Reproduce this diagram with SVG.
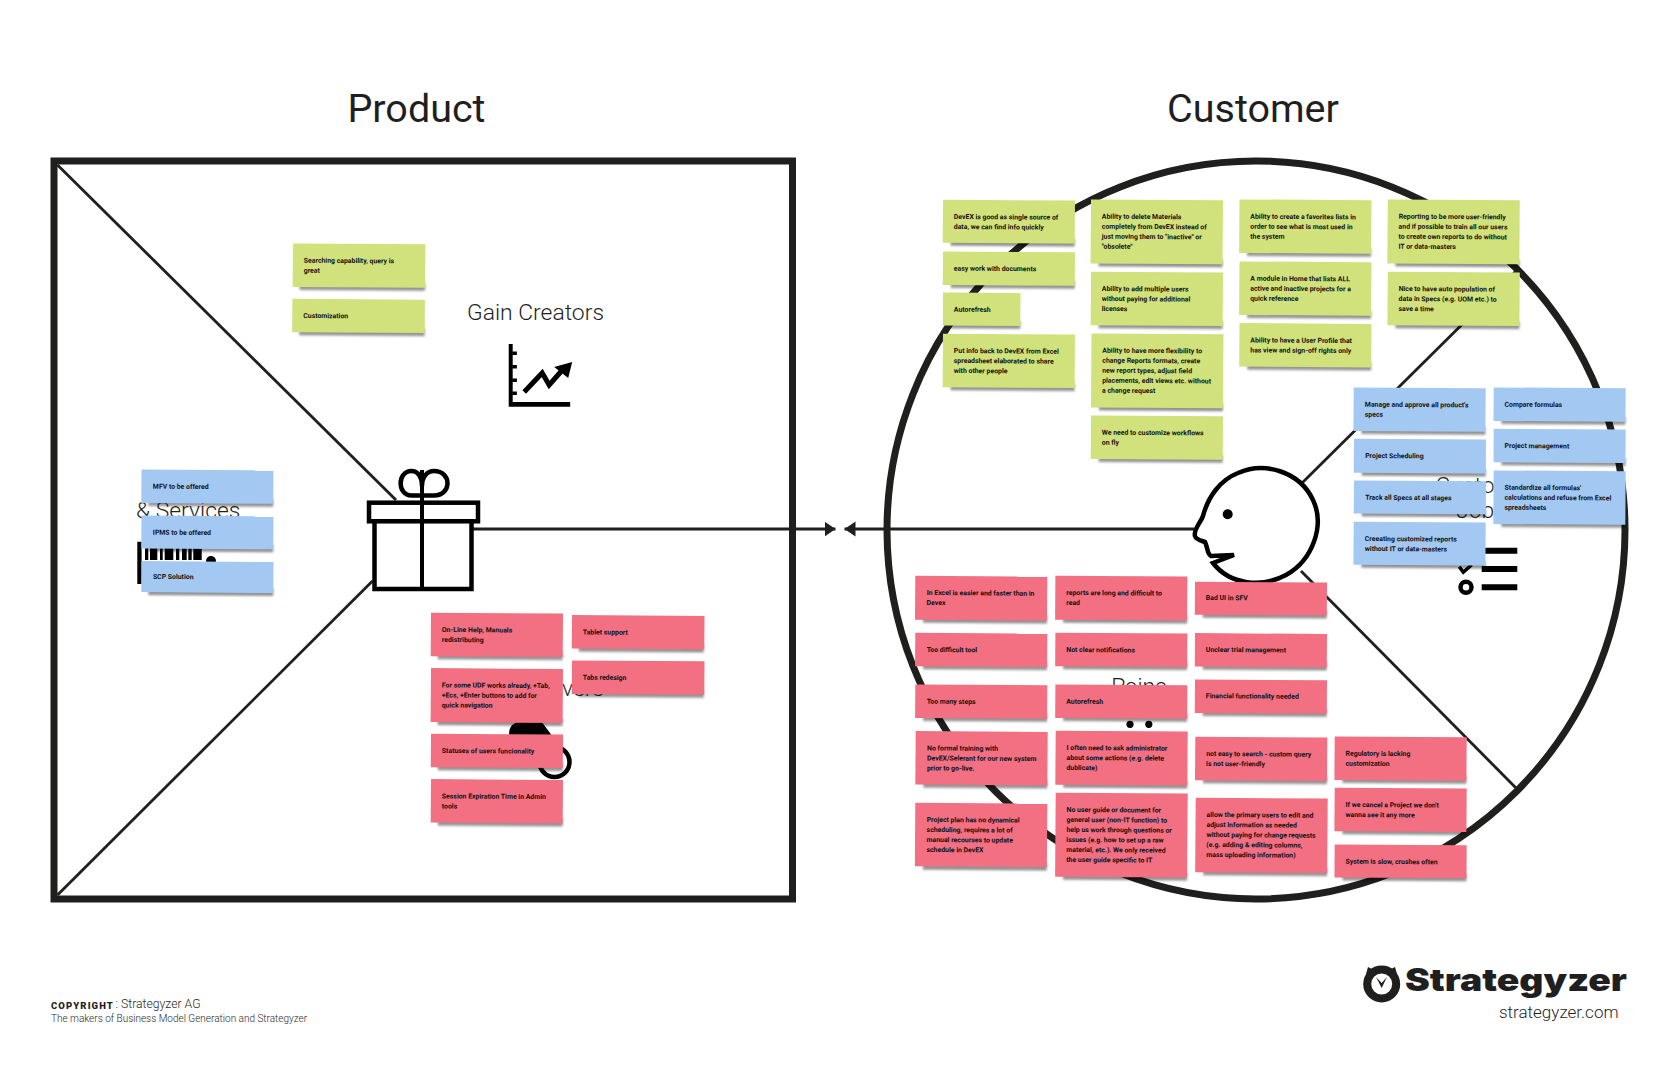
<svg xmlns="http://www.w3.org/2000/svg" width="1680" height="1074" viewBox="0 0 1680 1074">
<style>
text{font-family:Roboto,"Liberation Sans",sans-serif;fill:#1f1f1f}
.h1{font-size:39.500px;font-weight:400;text-anchor:middle}
.h2{font-size:22.900px;font-weight:300}
.frame{fill:none;stroke:#1f1f1d;stroke-width:7}
.con{fill:none;stroke:#1f1f1d;stroke-width:2.800}
.ic{fill:none;stroke:#000;stroke-width:4.500}
.b{fill:#000}
.sh{fill:#000;opacity:.42;filter:url(#blur)}
.green .f{fill:#d1e17c}
.blue .f{fill:#a3c9f3}
.pink .f{fill:#f36f82}
.sticky text{font-size:6.900px;font-weight:700;fill:#111;transform:translateY(-.3px)}
</style>
<defs>
<filter id="blur" x="-10%" y="-60%" width="120%" height="220%"><feGaussianBlur stdDeviation="1.1"/></filter>
<marker id="ah" markerUnits="userSpaceOnUse" markerWidth="12" markerHeight="16" refX="11" refY="7.5" orient="auto"><path d="M0 0L11 7.500L0 15Z" fill="#1f1f1d"/></marker>
</defs>
<rect width="1680" height="1074" fill="#fff"/>
<text class="h1" x="416.500" y="122">Product</text>
<text class="h1" x="1253" y="122">Customer</text>
<g id="product-frame"><rect class="frame" x="54" y="161" width="738.500" height="738"/></g>
<g id="customer-frame"><circle class="frame" cx="1256" cy="530" r="369"/></g>
<g id="connectors">
<path class="con" d="M57.500 165L396 500"/>
<path class="con" d="M57.500 895L372.500 581"/>
<path class="con" d="M473 529H835.500" marker-end="url(#ah)"/>
<path class="con" d="M1194 529H844.500" marker-end="url(#ah)"/>
<path class="con" d="M1302 483L1517 270"/>
<path class="con" d="M1301 571L1517 789"/>
</g>
<g id="gift">
<rect x="369" y="502.700" width="109" height="18.600" fill="#fff" stroke="#000" stroke-width="4.500"/>
<rect x="374.500" y="521.300" width="97" height="67.700" fill="#fff" stroke="#000" stroke-width="4.500"/>
<path d="M422 470V589" stroke="#000" stroke-width="4" fill="none"/>
<path class="ic" d="M422 495.500H411.500C397 495.500 397 471 411.500 471C418 471 422 477 422 486C422 477 427 471 434 471C452 471 452 495.500 434 495.500Z"/>
</g>
<g id="gain-creators">
<text class="h2" x="467" y="320">Gain Creators</text>
<g transform="translate(-2.800 0)">
<path class="b" d="M511.500 344h4v58h57.500v4.700h-61.500Z"/>
<path class="b" d="M515 351.500h4.700v3.500h-4.700ZM515 365h4.700v3.500h-4.700ZM515 378.500h4.700v3.500h-4.700ZM515 391.500h4.700v3.500h-4.700Z"/>
<path d="M527 392L545 373L552 385L566 369" fill="none" stroke="#000" stroke-width="5"/>
<path class="b" d="M575 362L557 367L571 378Z"/>
</g>
</g>
<g id="products-services">
<text class="h2" x="136" y="518">&amp; Services</text>
<path class="b" d="M137.300 541.700h4.300v42.300h-4.300ZM145 540h3.300v20h-3.300ZM150 540h7.300v20h-7.300ZM160 540h2.700v20h-2.700ZM164.700 540h8.600v20h-8.600ZM176 540h3.300v20h-3.300ZM182 540h4.700v20h-4.700ZM188.300 540h3.400v20h-3.400ZM193.300 540h8.400v20h-8.400Z"/>
<circle class="b" cx="211" cy="561" r="5"/>
</g>
<g id="pain-relievers">
<text class="h2" x="604" y="696" text-anchor="end">Relievers</text>
<path class="b" d="M509.500 737C507 725 516 721 525 721H541L553 737Z"/>
<circle class="ic" cx="554.500" cy="762" r="15"/>
</g>
<g id="customer-jobs">
<text class="h2" text-anchor="middle" x="1485" y="493">Customer</text>
<text class="h2" text-anchor="middle" x="1481" y="518">Jobs</text>
<path class="b" d="M1485 547.700h32.300v6h-32.300ZM1481.700 566h35.600v6h-35.600ZM1481.700 584.300h35.600v6h-35.600Z"/>
<path d="M1459.300 566.700l4 5.500l8.400-7.500" fill="none" stroke="#000" stroke-width="3.500"/>
<circle class="ic" cx="1466" cy="587.300" r="5.500"/>
</g>
<g id="pains">
<text class="h2" text-anchor="middle" x="1139" y="694">Pains</text>
<circle class="b" cx="1130" cy="724.300" r="3.600"/><circle class="b" cx="1148.800" cy="724.300" r="3.600"/>
</g>
<g id="customer-head">
<path fill="#fff" stroke="#000" stroke-width="4.500" d="M1213 563C1230 585 1262 588 1286 575C1313 560 1325 525 1313 500C1300 472 1265 461 1238 473C1220 480 1208 497 1203 516C1201 522 1193 530 1195 536C1196 540 1203 541 1205 542C1208 548 1207 554 1211 556L1234 555L1213 563Z"/>
<circle class="b" cx="1227.700" cy="514.300" r="5"/>
</g>
<g id="stickies" transform="translate(0 -.6)">
<g id="g1" class="sticky green" transform="translate(292.900 244) rotate(.4)"><rect class="sh" x="7" y="38.500" width="125.500" height="8"/><rect class="f" width="132.500" height="43.500"/><text y="19.500"><tspan x="11">Searching capability, query is</tspan><tspan x="11" dy="10">great</tspan></text></g>
<g id="g2" class="sticky green" transform="translate(292.400 299.300) rotate(.4)"><rect class="sh" x="7" y="28.500" width="125.500" height="8"/><rect class="f" width="132.500" height="33.500"/><text y="19.500"><tspan x="11">Customization</tspan></text></g>
<g id="b1" class="sticky blue" transform="translate(141.500 470) rotate(.4)"><rect class="sh" x="7" y="28.500" width="125" height="8"/><rect class="f" width="132" height="33.500"/><text y="19.500"><tspan x="11.500">MFV to be offered</tspan></text></g>
<g id="b2" class="sticky blue" transform="translate(141.500 516) rotate(.4)"><rect class="sh" x="7" y="28" width="125" height="8"/><rect class="f" width="132" height="33"/><text y="19.500"><tspan x="11.500">IPMS to be offered</tspan></text></g>
<g id="b3" class="sticky blue" transform="translate(141.500 561.700) rotate(.4)"><rect class="sh" x="7" y="26" width="125" height="8"/><rect class="f" width="132" height="31"/><text y="18"><tspan x="11.500">SCP Solution</tspan></text></g>
<g id="p1" class="sticky pink" transform="translate(431 613.300) rotate(.4)"><rect class="sh" x="7" y="38.500" width="125" height="8"/><rect class="f" width="132" height="43.500"/><text y="19.500"><tspan x="11">On-Line Help, Manuals</tspan><tspan x="11" dy="10">redistributing</tspan></text></g>
<g id="p2" class="sticky pink" transform="translate(572 615.700) rotate(.4)"><rect class="sh" x="7" y="28.500" width="125" height="8"/><rect class="f" width="132.500" height="33.500"/><text y="19.500"><tspan x="11">Tablet support</tspan></text></g>
<g id="p3" class="sticky pink" transform="translate(572 661) rotate(.4)"><rect class="sh" x="7" y="28.500" width="125" height="8"/><rect class="f" width="132.500" height="33.500"/><text y="19.500"><tspan x="11">Tabs redesign</tspan></text></g>
<g id="p4" class="sticky pink" transform="translate(431 668.700) rotate(.4)"><rect class="sh" x="7" y="49" width="125" height="8"/><rect class="f" width="132" height="54"/><text y="19.500"><tspan x="11">For some UDF works already, +Tab,</tspan><tspan x="11" dy="10">+Ecs, +Enter buttons to add for</tspan><tspan x="11" dy="10">quick navigation</tspan></text></g>
<g id="p5" class="sticky pink" transform="translate(431 734.300) rotate(.4)"><rect class="sh" x="7" y="28.500" width="125" height="8"/><rect class="f" width="132" height="33.500"/><text y="19.500"><tspan x="11">Statuses of users funcionality</tspan></text></g>
<g id="p6" class="sticky pink" transform="translate(431 779.700) rotate(.4)"><rect class="sh" x="7" y="38.500" width="125" height="8"/><rect class="f" width="132" height="43.500"/><text y="19.500"><tspan x="11">Session Expiration Time in Admin</tspan><tspan x="11" dy="10">tools</tspan></text></g>

<g id="g3" class="sticky green" transform="translate(943 200.300) rotate(.4)"><rect class="sh" x="8" y="38" width="124" height="8"/><rect class="f" width="132" height="43"/><text y="19.500"><tspan x="11">DevEX is good as single source of</tspan><tspan x="11" dy="10">data, we can find info quickly</tspan></text></g>
<g id="g4" class="sticky green" transform="translate(943 252) rotate(.4)"><rect class="sh" x="8" y="28.500" width="124" height="8"/><rect class="f" width="132" height="33.500"/><text y="19.500"><tspan x="11">easy work with documents</tspan></text></g>
<g id="g5" class="sticky green" transform="translate(943 293) rotate(.4)"><rect class="sh" x="8" y="28" width="69.500" height="8"/><rect class="f" width="77.500" height="33"/><text y="19.500"><tspan x="11">Autorefresh</tspan></text></g>
<g id="g6" class="sticky green" transform="translate(943 334.300) rotate(.4)"><rect class="sh" x="8" y="48.500" width="124" height="8"/><rect class="f" width="132" height="53.500"/><text y="19.500"><tspan x="11">Put info back to DevEX from Excel</tspan><tspan x="11" dy="10">spreadsheet elaborated to share</tspan><tspan x="11" dy="10">with other people</tspan></text></g>
<g id="g7" class="sticky green" transform="translate(1091 200) rotate(.4)"><rect class="sh" x="8" y="59" width="124" height="8"/><rect class="f" width="132" height="64"/><text y="19.500"><tspan x="11">Ability to delete Materials</tspan><tspan x="11" dy="10">completely from DevEX instead of</tspan><tspan x="11" dy="10">just moving them to "inactive" or</tspan><tspan x="11" dy="10">"obsolete"</tspan></text></g>
<g id="g8" class="sticky green" transform="translate(1091 272.300) rotate(.4)"><rect class="sh" x="8" y="48.500" width="124" height="8"/><rect class="f" width="132" height="53.500"/><text y="19.500"><tspan x="11">Ability to add multiple users</tspan><tspan x="11" dy="10">without paying for additional</tspan><tspan x="11" dy="10">licenses</tspan></text></g>
<g id="g9" class="sticky green" transform="translate(1091.500 334) rotate(.4)"><rect class="sh" x="8" y="69" width="124" height="8"/><rect class="f" width="132" height="74"/><text y="19.500"><tspan x="11">Ability to have more flexibility to</tspan><tspan x="11" dy="10">change Reports formats, create</tspan><tspan x="11" dy="10">new report types, adjust field</tspan><tspan x="11" dy="10">placements, edit views etc. without</tspan><tspan x="11" dy="10">a change request</tspan></text></g>
<g id="g10" class="sticky green" transform="translate(1091 416) rotate(.4)"><rect class="sh" x="8" y="38.500" width="124" height="8"/><rect class="f" width="132" height="43.500"/><text y="19.500"><tspan x="11">We need to customize workflows</tspan><tspan x="11" dy="10">on fly</tspan></text></g>
<g id="g11" class="sticky green" transform="translate(1239.500 200) rotate(.4)"><rect class="sh" x="8" y="48.500" width="124" height="8"/><rect class="f" width="132" height="53.500"/><text y="19.500"><tspan x="11">Ability to create a favorites lists in</tspan><tspan x="11" dy="10">order to see what is most used in</tspan><tspan x="11" dy="10">the system</tspan></text></g>
<g id="g12" class="sticky green" transform="translate(1239.500 262) rotate(.4)"><rect class="sh" x="8" y="48.500" width="124" height="8"/><rect class="f" width="132" height="53.500"/><text y="19.500"><tspan x="11">A module in Home that lists ALL</tspan><tspan x="11" dy="10">active and inactive projects for a</tspan><tspan x="11" dy="10">quick reference</tspan></text></g>
<g id="g13" class="sticky green" transform="translate(1239.500 323.700) rotate(.4)"><rect class="sh" x="8" y="38.500" width="124" height="8"/><rect class="f" width="132" height="43.500"/><text y="19.500"><tspan x="11">Ability to have a User Profile that</tspan><tspan x="11" dy="10">has view and sign-off rights only</tspan></text></g>
<g id="g14" class="sticky green" transform="translate(1387.800 200) rotate(.4)"><rect class="sh" x="8" y="59" width="124" height="8"/><rect class="f" width="132" height="64"/><text y="19.500"><tspan x="11">Reporting to be more user-friendly</tspan><tspan x="11" dy="10">and if possible to train all our users</tspan><tspan x="11" dy="10">to create own reports to do without</tspan><tspan x="11" dy="10">IT or data-masters</tspan></text></g>
<g id="g15" class="sticky green" transform="translate(1387.800 272.300) rotate(.4)"><rect class="sh" x="8" y="48.500" width="124" height="8"/><rect class="f" width="132" height="53.500"/><text y="19.500"><tspan x="11">Nice to have auto population of</tspan><tspan x="11" dy="10">data in Specs (e.g. UOM etc.) to</tspan><tspan x="11" dy="10">save a time</tspan></text></g>

<g id="b4" class="sticky blue" transform="translate(1353.700 388) rotate(.4)"><rect class="sh" x="8" y="38.500" width="124" height="8"/><rect class="f" width="132" height="43.500"/><text y="19.500"><tspan x="11.300">Manage and approve all product's</tspan><tspan x="11.300" dy="10">specs</tspan></text></g>
<g id="b5" class="sticky blue" transform="translate(1354 439.300) rotate(.4)"><rect class="sh" x="8" y="29" width="124" height="8"/><rect class="f" width="132" height="34"/><text y="19.500"><tspan x="11.300">Project Scheduling</tspan></text></g>
<g id="b6" class="sticky blue" transform="translate(1354 481) rotate(.4)"><rect class="sh" x="8" y="28" width="124" height="8"/><rect class="f" width="132" height="33"/><text y="19.500"><tspan x="11.300">Track all Specs at all stages</tspan></text></g>
<g id="b7" class="sticky blue" transform="translate(1353.700 522.300) rotate(.4)"><rect class="sh" x="8" y="38" width="124" height="8"/><rect class="f" width="132" height="43"/><text y="19.500"><tspan x="11.300">Creeating customized reports</tspan><tspan x="11.300" dy="10">without IT or data-masters</tspan></text></g>
<g id="b8" class="sticky blue" transform="translate(1493.700 388) rotate(.4)"><rect class="sh" x="8" y="28.500" width="124" height="8"/><rect class="f" width="132" height="33.500"/><text y="19.500"><tspan x="11">Compare formulas</tspan></text></g>
<g id="b9" class="sticky blue" transform="translate(1493.700 429.300) rotate(.4)"><rect class="sh" x="8" y="28.500" width="124" height="8"/><rect class="f" width="132" height="33.500"/><text y="19.500"><tspan x="11">Project management</tspan></text></g>
<g id="b10" class="sticky blue" transform="translate(1493.700 471) rotate(.4)"><rect class="sh" x="8" y="48.500" width="124" height="8"/><rect class="f" width="132" height="53.500"/><text y="19.500"><tspan x="11">Standardize all formulas'</tspan><tspan x="11" dy="10">calculations and refuse from Excel</tspan><tspan x="11" dy="10">spreadsheets</tspan></text></g>

<g id="p7" class="sticky pink" transform="translate(915.300 576.300) rotate(.4)"><rect class="sh" x="8" y="39" width="124" height="8"/><rect class="f" width="132" height="44"/><text y="19.500"><tspan x="11.500">In Excel is easier and faster than in</tspan><tspan x="11.500" dy="10">Devex</tspan></text></g>
<g id="p8" class="sticky pink" transform="translate(915.300 633.300) rotate(.4)"><rect class="sh" x="8" y="28.500" width="124" height="8"/><rect class="f" width="132" height="33.500"/><text y="19.500"><tspan x="11.500">Too difficult tool</tspan></text></g>
<g id="p9" class="sticky pink" transform="translate(915.300 685) rotate(.4)"><rect class="sh" x="8" y="28.500" width="124" height="8"/><rect class="f" width="132" height="33.500"/><text y="19.500"><tspan x="11.500">Too many steps</tspan></text></g>
<g id="p10" class="sticky pink" transform="translate(915.700 731.700) rotate(.4)"><rect class="sh" x="8" y="48.500" width="124" height="8"/><rect class="f" width="132" height="53.500"/><text y="19.500"><tspan x="11.500">No formal training with</tspan><tspan x="11.500" dy="10">DevEX/Selerant for our new system</tspan><tspan x="11.500" dy="10">prior to go-live.</tspan></text></g>
<g id="p11" class="sticky pink" transform="translate(915.300 803.300) rotate(.4)"><rect class="sh" x="8" y="59" width="124" height="8"/><rect class="f" width="132" height="63.500"/><text y="19.500"><tspan x="11.500">Project plan has no dynamical</tspan><tspan x="11.500" dy="10">scheduling, requires a lot of</tspan><tspan x="11.500" dy="10">manual recourses to update</tspan><tspan x="11.500" dy="10">schedule in DevEX</tspan></text></g>
<g id="p12" class="sticky pink" transform="translate(1055.400 576.300) rotate(.4)"><rect class="sh" x="8" y="39" width="124" height="8"/><rect class="f" width="132" height="44"/><text y="19.500"><tspan x="11">reports are long and difficult to</tspan><tspan x="11" dy="10">read</tspan></text></g>
<g id="p13" class="sticky pink" transform="translate(1055.400 633.300) rotate(.4)"><rect class="sh" x="8" y="28.500" width="124" height="8"/><rect class="f" width="132" height="33.500"/><text y="19.500"><tspan x="11">Not clear notifications</tspan></text></g>
<g id="p14" class="sticky pink" transform="translate(1055.400 685) rotate(.4)"><rect class="sh" x="8" y="28.500" width="124" height="8"/><rect class="f" width="132" height="33.500"/><text y="19.500"><tspan x="11">Autorefresh</tspan></text></g>
<g id="p15" class="sticky pink" transform="translate(1055.700 731.300) rotate(.4)"><rect class="sh" x="8" y="49" width="124" height="8"/><rect class="f" width="132" height="54"/><text y="19.500"><tspan x="11">I often need to ask administrator</tspan><tspan x="11" dy="10">about some actions (e.g. delete</tspan><tspan x="11" dy="10">dublicate)</tspan></text></g>
<g id="p16" class="sticky pink" transform="translate(1055.700 793.300) rotate(.4)"><rect class="sh" x="8" y="79" width="124" height="8"/><rect class="f" width="132" height="84"/><text y="19.500"><tspan x="11">No user guide or document for</tspan><tspan x="11" dy="10">general user (non-IT function) to</tspan><tspan x="11" dy="10">help us work through questions or</tspan><tspan x="11" dy="10">issues (e.g. how to set up a raw</tspan><tspan x="11" dy="10">material, etc.). We only received</tspan><tspan x="11" dy="10">the user guide specific to IT</tspan></text></g>
<g id="p17" class="sticky pink" transform="translate(1195 582.300) rotate(.4)"><rect class="sh" x="8" y="28" width="124" height="8"/><rect class="f" width="132" height="33"/><text y="18.500"><tspan x="11">Bad UI in SFV</tspan></text></g>
<g id="p18" class="sticky pink" transform="translate(1195 633.700) rotate(.4)"><rect class="sh" x="8" y="28.500" width="124" height="8"/><rect class="f" width="132" height="33.500"/><text y="19"><tspan x="11">Unclear trial management</tspan></text></g>
<g id="p19" class="sticky pink" transform="translate(1195 680) rotate(.4)"><rect class="sh" x="8" y="28.500" width="124" height="8"/><rect class="f" width="132" height="33.500"/><text y="19"><tspan x="11">Financial functionality needed</tspan></text></g>
<g id="p20" class="sticky pink" transform="translate(1195.300 737.300) rotate(.4)"><rect class="sh" x="8" y="38.500" width="124" height="8"/><rect class="f" width="132" height="43.500"/><text y="19.500"><tspan x="11">not easy to search - custom query</tspan><tspan x="11" dy="10">is not user-friendly</tspan></text></g>
<g id="p21" class="sticky pink" transform="translate(1195.700 798.300) rotate(.4)"><rect class="sh" x="8" y="69.500" width="124" height="8"/><rect class="f" width="132" height="74.500"/><text y="19.500"><tspan x="11">allow the primary users to edit and</tspan><tspan x="11" dy="10">adjust information as needed</tspan><tspan x="11" dy="10">without paying for change requests</tspan><tspan x="11" dy="10">(e.g. adding &amp; editing columns,</tspan><tspan x="11" dy="10">mass uploading information)</tspan></text></g>
<g id="p22" class="sticky pink" transform="translate(1334.700 737) rotate(.4)"><rect class="sh" x="8" y="38.500" width="124" height="8"/><rect class="f" width="132" height="43.500"/><text y="19.500"><tspan x="11">Regulatory is lacking</tspan><tspan x="11" dy="10">customization</tspan></text></g>
<g id="p23" class="sticky pink" transform="translate(1334.700 788.300) rotate(.4)"><rect class="sh" x="8" y="38.500" width="124" height="8"/><rect class="f" width="132" height="43.500"/><text y="19.500"><tspan x="11">If we cancel a Project we don't</tspan><tspan x="11" dy="10">wanna see it any more</tspan></text></g>
<g id="p24" class="sticky pink" transform="translate(1334.700 845) rotate(.4)"><rect class="sh" x="8" y="28" width="124" height="8"/><rect class="f" width="132" height="33"/><text y="19.500"><tspan x="11">System is slow, crushes often</tspan></text></g>
</g>
<g id="copyright">
<text x="51" y="1009.300" font-size="9.500" font-weight="900" letter-spacing="1.100">COPYRIGHT</text>
<text x="115.500" y="1008.300" font-size="12.200" font-weight="300">: Strategyzer AG</text>
<text x="51" y="1021.700" font-size="10" font-weight="300">The makers of Business Model Generation and Strategyzer</text>
</g>
<g id="logo">
<circle cx="1381.700" cy="984" r="14.500" fill="none" stroke="#1f1f1d" stroke-width="8"/>
<path d="M1366 974L1368 967L1376 971ZM1397 974L1395 967L1387 971Z" fill="#1f1f1d"/>
<path d="M1376 977L1381.700 983L1387 977L1381.700 988Z" fill="#1f1f1d"/>
<text x="1405" y="991" font-size="31.500" font-weight="900" textLength="222" lengthAdjust="spacingAndGlyphs" style="font-family:Inter,Roboto,sans-serif">Strategyzer</text>
<text x="1499" y="1018.300" font-size="16.500" font-weight="300" textLength="119.500" lengthAdjust="spacingAndGlyphs">strategyzer.com</text>
</g>
</svg>
